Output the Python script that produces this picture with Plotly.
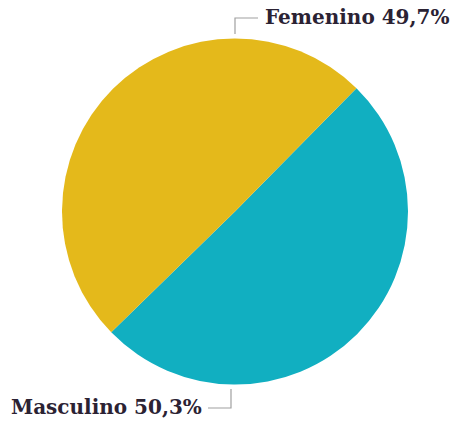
import plotly.graph_objects as go

labels = ["Masculino", "Femenino"]
values = [50.3, 49.7]
colors = ["#11AFC1", "#E4B91B"]
label_texts = ["Masculino 50,3%", "Femenino 49,7%"]

W, H = 450, 421
fig = go.Figure(go.Pie(
    labels=labels, values=values, sort=False, direction="clockwise",
    rotation=44.6, textinfo="none", hoverinfo="label+percent",
    marker=dict(colors=colors, line=dict(width=0)),
    domain=dict(x=[62 / W, 408 / W], y=[1 - 385 / H, 1 - 38 / H]),
    showlegend=False,
))

font = dict(family="DejaVu Serif", size=20, color="#2B2233")
fig.add_annotation(text="<b>" + label_texts[1] + "</b>", x=263 / W, y=1 - 17 / H,
                   xref="paper", yref="paper", xanchor="left", yanchor="middle",
                   showarrow=False, font=font)
fig.add_annotation(text="<b>" + label_texts[0] + "</b>", x=204 / W, y=1 - 407 / H,
                   xref="paper", yref="paper", xanchor="right", yanchor="middle",
                   showarrow=False, font=font)

line = dict(color="#A0A0A0", width=1.2)
def px(x, y):
    return x / W, 1 - y / H
for pts in ([(258, 18), (235, 18), (235, 34)], [(208, 408), (231, 408), (231, 389)]):
    path = "M " + " L ".join(f"{px(x, y)[0]},{px(x, y)[1]}" for x, y in pts)
    fig.add_shape(type="path", path=path, xref="paper", yref="paper", line=line)

fig.update_layout(width=W, height=H, margin=dict(l=0, r=0, t=0, b=0),
                  paper_bgcolor="white", plot_bgcolor="white")
fig.write_html("out.html", config={"displayModeBar": False},
               post_script="document.body.style.margin='0';")
